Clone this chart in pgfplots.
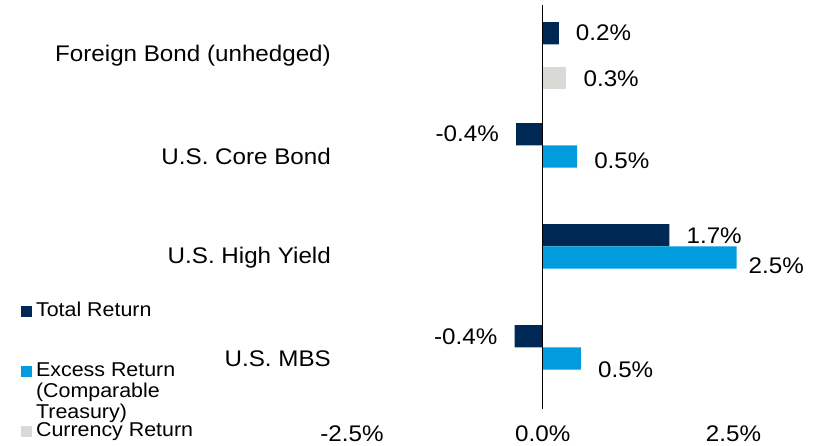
\documentclass[border=0pt]{standalone}
\usepackage{pgfplots}
\pgfplotsset{compat=1.18}
\usepackage{pgfplotstable}
\usepackage{fontspec}
\setmainfont{Liberation Sans}[FakeStretch=1.07]
\definecolor{navy}{HTML}{002855}
\definecolor{sky}{HTML}{009CDE}
\definecolor{lgray}{HTML}{D9D9D6}

% Total Return, positive values
\pgfplotstableread{
y x lab dx dy
0 0.21 0.2 0 0
2 1.66 1.7 0 -1
}\totalpos
% Total Return, negative values
\pgfplotstableread{
y x lab dx dy
1 -0.35 -0.4 0 0
3 -0.37 -0.4 0 -1
}\totalneg
\pgfplotstableread{
y x lab dx dy
1 0.45 0.5 0 -4
2 2.54 2.5 -5 -8
3 0.50 0.5 0 -11
}\excesstab
\pgfplotstableread{
y x lab dx dy
0 0.31 0.3 0 -1
}\currtab

\pgfplotsset{barlab/.style={
 point meta=explicit symbolic,
 nodes near coords={\pgfplotspointmeta\%},
 visualization depends on={\thisrow{dx} \as \labdx},
 visualization depends on={\thisrow{dy} \as \labdy},
 every node near coord/.append style={anchor=#1, inner xsep=17pt, inner ysep=0pt, xshift=\labdx pt, yshift=\labdy pt, text=black},
}}

\begin{document}
\begin{tikzpicture}[font=\fontsize{22.6pt}{26pt}\selectfont]
\useasboundingbox (0,0) rectangle (817pt,446pt);
\begin{axis}[
 at={(352pt,37pt)}, anchor=south west,
 scale only axis, width=457.8pt, height=404pt,
 xmin=-2.5, xmax=3.5, ymin=-0.5, ymax=3.5, y dir=reverse,
 xbar, bar width=22.3pt,
 axis line style={draw=none},
 major tick length=0pt,
 xtick={-2.5,0,2.5}, xticklabels={-2.5\%,0.0\%,2.5\%},
 ytick={0,1,2,3}, yticklabels={Foreign Bond (unhedged),U.S. Core Bond,U.S. High Yield,U.S. MBS},
 xticklabel style={anchor=north, inner sep=0pt, yshift=-17pt},
 yticklabel style={anchor=east, inner sep=0pt, xshift=-21pt},
 legend style={at={(-0.7232,0.266)}, anchor=north west, draw=none, fill=none, inner sep=0pt, row sep=40pt,
   font=\fontsize{20pt}{21pt}\selectfont,
   nodes={inner xsep=4.5pt, inner ysep=0pt, text height=15pt, text depth=5pt}},
 legend cell align=left,
 legend image code/.code={\draw[#1,draw=none] (0pt,-5.25pt) rectangle (10.5pt,5.25pt);},
]
\addplot[xbar, fill=navy, draw=none, bar shift=22.3pt, barlab=west] table[x=x,y=y,meta=lab]{\totalpos};
\addlegendentry{Total Return}
\addplot[xbar, fill=sky, draw=none, bar shift=0pt, barlab=west] table[x=x,y=y,meta=lab]{\excesstab};
\addlegendentry{\smash{\begin{tabular}[t]{@{}l@{}}Excess Return\\(Comparable\\Treasury)\end{tabular}}}
\addplot[xbar, fill=lgray, draw=none, bar shift=-22.3pt, barlab=west] table[x=x,y=y,meta=lab]{\currtab};
\addlegendentry{Currency Return}
\addplot[xbar, fill=navy, draw=none, bar shift=22.3pt, barlab=east, forget plot] table[x=x,y=y,meta=lab]{\totalneg};
\draw[black, line width=1.2pt] (axis cs:0,-0.5) -- (axis cs:0,3.5);
\end{axis}
\end{tikzpicture}
\end{document}
